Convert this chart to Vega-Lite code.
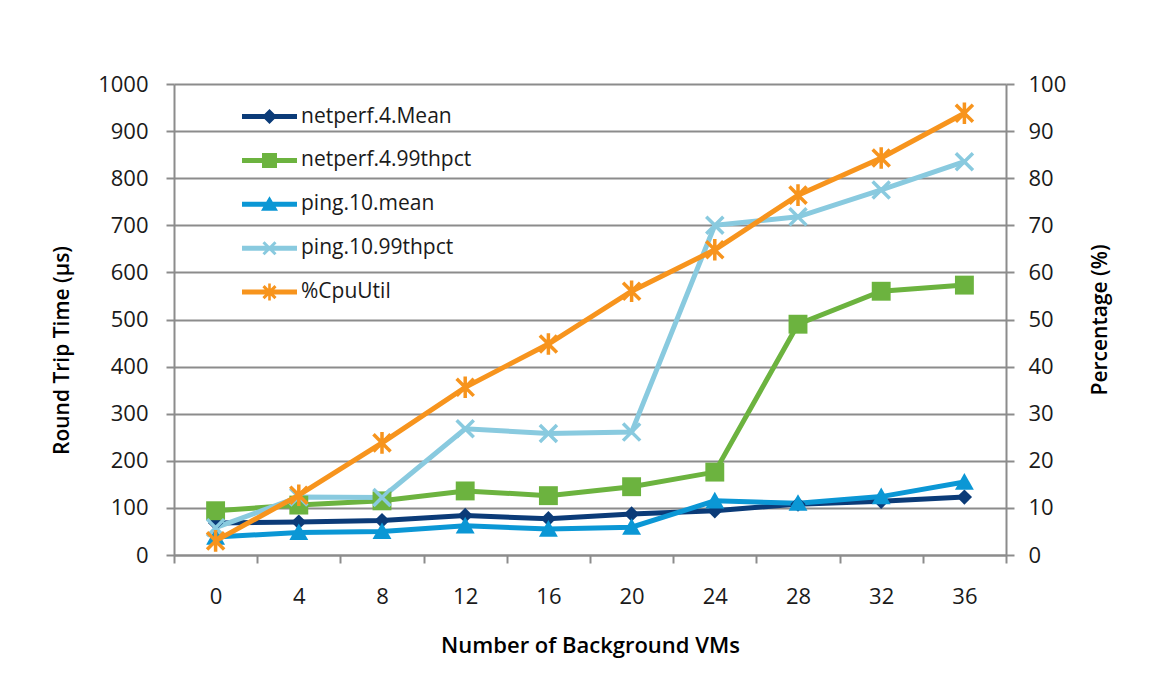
{
  "$schema": "https://vega.github.io/schema/vega-lite/v6.json",
  "width": 832,
  "height": 471,
  "autosize": {"type": "none"},
  "padding": {"left": 174, "top": 84, "right": 155, "bottom": 140},
  "background": "white",
  "config": {
    "font": "Open Sans",
    "view": {"stroke": null},
    "axis": {
      "labelFontSize": 22,
      "labelColor": "#1a1a1a",
      "titleFontSize": 21,
      "titleColor": "#000000",
      "titleFontWeight": 600,
      "domainColor": "#8c8c8c",
      "domainWidth": 2,
      "tickColor": "#8c8c8c",
      "tickWidth": 2,
      "tickSize": 8,
      "gridColor": "#8c8c8c",
      "gridWidth": 2
    },
    "legend": {
      "orient": "none",
      "legendX": 85,
      "legendY": 22,
      "labelFontSize": 21,
      "labelColor": "#1a1a1a",
      "labelLimit": 0,
      "symbolSize": 400,
      "rowPadding": 21.9,
      "labelOffset": 21,
      "symbolStrokeWidth": 0
    }
  },
  "data": {
    "values": [
      {"vms": 0, "series": "netperf.4.Mean", "value": 68},
      {"vms": 4, "series": "netperf.4.Mean", "value": 70},
      {"vms": 8, "series": "netperf.4.Mean", "value": 73},
      {"vms": 12, "series": "netperf.4.Mean", "value": 84},
      {"vms": 16, "series": "netperf.4.Mean", "value": 77},
      {"vms": 20, "series": "netperf.4.Mean", "value": 87},
      {"vms": 24, "series": "netperf.4.Mean", "value": 94},
      {"vms": 28, "series": "netperf.4.Mean", "value": 108},
      {"vms": 32, "series": "netperf.4.Mean", "value": 114},
      {"vms": 36, "series": "netperf.4.Mean", "value": 123},
      {"vms": 0, "series": "netperf.4.99thpct", "value": 94},
      {"vms": 4, "series": "netperf.4.99thpct", "value": 106},
      {"vms": 8, "series": "netperf.4.99thpct", "value": 115},
      {"vms": 12, "series": "netperf.4.99thpct", "value": 136},
      {"vms": 16, "series": "netperf.4.99thpct", "value": 126},
      {"vms": 20, "series": "netperf.4.99thpct", "value": 145},
      {"vms": 24, "series": "netperf.4.99thpct", "value": 176},
      {"vms": 28, "series": "netperf.4.99thpct", "value": 490},
      {"vms": 32, "series": "netperf.4.99thpct", "value": 560},
      {"vms": 36, "series": "netperf.4.99thpct", "value": 573},
      {"vms": 0, "series": "ping.10.mean", "value": 38},
      {"vms": 4, "series": "ping.10.mean", "value": 48},
      {"vms": 8, "series": "ping.10.mean", "value": 50},
      {"vms": 12, "series": "ping.10.mean", "value": 62},
      {"vms": 16, "series": "ping.10.mean", "value": 55},
      {"vms": 20, "series": "ping.10.mean", "value": 59},
      {"vms": 24, "series": "ping.10.mean", "value": 115},
      {"vms": 28, "series": "ping.10.mean", "value": 110},
      {"vms": 32, "series": "ping.10.mean", "value": 124},
      {"vms": 36, "series": "ping.10.mean", "value": 155},
      {"vms": 0, "series": "ping.10.99thpct", "value": 58},
      {"vms": 4, "series": "ping.10.99thpct", "value": 123},
      {"vms": 8, "series": "ping.10.99thpct", "value": 122},
      {"vms": 12, "series": "ping.10.99thpct", "value": 268},
      {"vms": 16, "series": "ping.10.99thpct", "value": 258},
      {"vms": 20, "series": "ping.10.99thpct", "value": 261},
      {"vms": 24, "series": "ping.10.99thpct", "value": 700},
      {"vms": 28, "series": "ping.10.99thpct", "value": 718},
      {"vms": 32, "series": "ping.10.99thpct", "value": 775},
      {"vms": 36, "series": "ping.10.99thpct", "value": 835},
      {"vms": 0, "series": "%CpuUtil", "value": 3.0},
      {"vms": 4, "series": "%CpuUtil", "value": 12.7},
      {"vms": 8, "series": "%CpuUtil", "value": 23.8},
      {"vms": 12, "series": "%CpuUtil", "value": 35.6},
      {"vms": 16, "series": "%CpuUtil", "value": 44.8},
      {"vms": 20, "series": "%CpuUtil", "value": 56.0},
      {"vms": 24, "series": "%CpuUtil", "value": 64.8},
      {"vms": 28, "series": "%CpuUtil", "value": 76.4},
      {"vms": 32, "series": "%CpuUtil", "value": 84.3},
      {"vms": 36, "series": "%CpuUtil", "value": 93.8}
    ]
  },
  "encoding": {
    "x": {
      "field": "vms",
      "type": "ordinal",
      "scale": {"type": "band", "paddingInner": 0, "paddingOuter": 0},
      "axis": {
        "title": "Number of Background VMs",
        "titleFontSize": 22,
        "titlePadding": 28,
        "labelAngle": 0,
        "labelPadding": 23,
        "tickBand": "extent",
        "grid": false
      }
    },
    "color": {
      "field": "series",
      "type": "nominal",
      "scale": {
        "domain": ["netperf.4.Mean", "netperf.4.99thpct", "ping.10.mean", "ping.10.99thpct", "%CpuUtil"],
        "range": ["#0b3b78", "#6cb33f", "#0b97d5", "#89cadf", "#f7941d"]
      },
      "legend": {
        "title": null,
        "encode": {
          "symbols": {
            "update": {
              "shape": {"signal": "datum.value === 'netperf.4.Mean' ? 'M-2.75,-0.25L2.75,-0.25L2.75,0.25L-2.75,0.25ZM0,-0.75L0.75,0L0,0.75L-0.75,0Z' : datum.value === 'netperf.4.99thpct' ? 'M-2.75,-0.25L2.75,-0.25L2.75,0.25L-2.75,0.25ZM-0.75,-0.75L0.75,-0.75L0.75,0.75L-0.75,0.75Z' : datum.value === 'ping.10.mean' ? 'M-2.75,-0.25L2.75,-0.25L2.75,0.25L-2.75,0.25ZM0,-0.8L0.85,0.65L-0.85,0.65Z' : datum.value === 'ping.10.99thpct' ? 'M-2.75,-0.25L2.75,-0.25L2.75,0.25L-2.75,0.25ZM-0.494,-0.706L0.706,0.494L0.494,0.706L-0.706,-0.494ZM0.706,-0.494L-0.494,0.706L-0.706,0.494L0.494,-0.706Z' : 'M-2.75,-0.25L2.75,-0.25L2.75,0.25L-2.75,0.25ZM-0.494,-0.706L0.706,0.494L0.494,0.706L-0.706,-0.494ZM0.706,-0.494L-0.494,0.706L-0.706,0.494L0.494,-0.706ZM-0.13,-0.85L0.13,-0.85L0.13,0.85L-0.13,0.85Z'"},
              "fill": {"scale": "color", "field": "value"},
              "strokeWidth": {"value": 0},
              "opacity": {"value": 1}
            }
          }
        }
      }
    }
  },
  "layer": [
    {
      "transform": [{"filter": "datum.series !== '%CpuUtil'"}],
      "encoding": {
        "y": {
          "field": "value",
          "type": "quantitative",
          "scale": {"domain": [0, 1000], "nice": false, "zero": true},
          "axis": {
            "title": "Round Trip Time (μs)",
            "format": "d",
            "values": [0, 100, 200, 300, 400, 500, 600, 700, 800, 900, 1000],
            "grid": true,
            "labelPadding": 18,
            "titleX": -112,
            "titleY": 266,
            "titleBaseline": "middle"
          }
        }
      },
      "layer": [
        {"mark": {"type": "line", "strokeWidth": 5}},
        {
          "transform": [{"filter": "datum.series === 'netperf.4.Mean'"}],
          "mark": {"type": "point", "filled": true, "opacity": 1, "size": 324, "strokeWidth": 0, "shape": "M0,-0.85L0.85,0L0,0.85L-0.85,0Z"}
        },
        {
          "transform": [{"filter": "datum.series === 'netperf.4.99thpct'"}],
          "mark": {"type": "point", "filled": true, "opacity": 1, "size": 324, "strokeWidth": 0, "shape": "M-1.05,-1.05L1.05,-1.05L1.05,1.05L-1.05,1.05Z"}
        },
        {
          "transform": [{"filter": "datum.series === 'ping.10.mean'"}],
          "mark": {"type": "point", "filled": true, "opacity": 1, "size": 324, "strokeWidth": 0, "shape": "M0,-1L1.05,0.85L-1.05,0.85Z"}
        },
        {
          "transform": [{"filter": "datum.series === 'ping.10.99thpct'"}],
          "mark": {"type": "point", "filled": false, "opacity": 1, "size": 324, "strokeWidth": 3.5, "shape": "M-0.95,-0.95L0.95,0.95M-0.95,0.95L0.95,-0.95"}
        }
      ]
    },
    {
      "transform": [{"filter": "datum.series === '%CpuUtil'"}],
      "encoding": {
        "y": {
          "field": "value",
          "type": "quantitative",
          "scale": {"domain": [0, 100], "nice": false, "zero": true},
          "axis": {
            "orient": "right",
            "title": "Percentage (%)",
            "values": [0, 10, 20, 30, 40, 50, 60, 70, 80, 90, 100],
            "grid": false,
            "labelPadding": 14,
            "titleAngle": 270,
            "titleX": 94,
            "titleBaseline": "middle"
          }
        }
      },
      "layer": [
        {"mark": {"type": "line", "strokeWidth": 5}},
        {
          "mark": {"type": "point", "filled": false, "opacity": 1, "size": 324, "strokeWidth": 3.5, "shape": "M-0.95,-0.95L0.95,0.95M-0.95,0.95L0.95,-0.95M0,-1.2L0,1.2"}
        }
      ]
    }
  ],
  "resolve": {"scale": {"y": "independent"}}
}
